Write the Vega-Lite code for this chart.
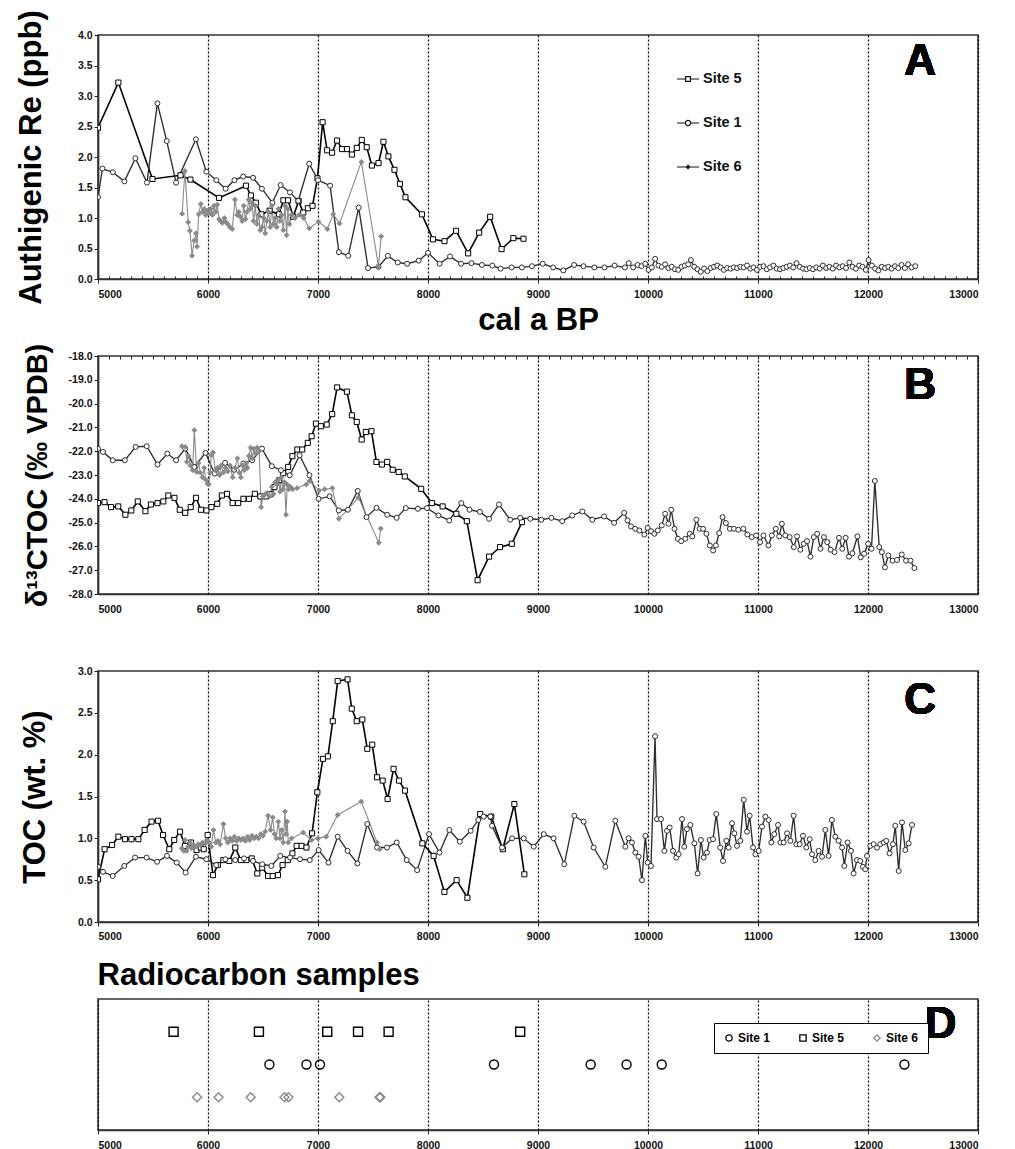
{
  "$schema": "https://vega.github.io/schema/vega-lite/v6.json",
  "background": "white",
  "padding": {"left": 14, "top": 8, "right": 5, "bottom": 0},
  "bounds": "flush",
  "spacing": 77,
  "resolve": {"scale": {"stroke": "independent", "shape": "independent", "fill": "independent", "size": "independent", "strokeWidth": "independent"}, "legend": {"stroke": "independent", "shape": "independent", "fill": "independent", "size": "independent", "strokeWidth": "independent"}},
  "datasets": {
    "re": [
      {"site":"Site 5","age":5000,"v":2.48},{"site":"Site 5","age":5185,"v":3.22},{"site":"Site 5","age":5495,"v":1.64},{"site":"Site 5","age":5750,"v":1.70},{"site":"Site 5","age":5840,"v":1.63},{"site":"Site 5","age":6100,"v":1.33},{"site":"Site 5","age":6345,"v":1.53},{"site":"Site 5","age":6390,"v":1.37},{"site":"Site 5","age":6435,"v":1.25},{"site":"Site 5","age":6485,"v":1.06},{"site":"Site 5","age":6560,"v":1.12},{"site":"Site 5","age":6645,"v":1.06},{"site":"Site 5","age":6685,"v":1.29},{"site":"Site 5","age":6728,"v":1.29},{"site":"Site 5","age":6775,"v":1.02},{"site":"Site 5","age":6824,"v":1.28},{"site":"Site 5","age":6866,"v":1.09},{"site":"Site 5","age":6908,"v":1.16},{"site":"Site 5","age":6950,"v":1.20},{"site":"Site 5","age":6995,"v":1.65},{"site":"Site 5","age":7042,"v":2.57},{"site":"Site 5","age":7083,"v":2.11},{"site":"Site 5","age":7128,"v":2.07},{"site":"Site 5","age":7173,"v":2.27},{"site":"Site 5","age":7218,"v":2.13},{"site":"Site 5","age":7263,"v":2.13},{"site":"Site 5","age":7308,"v":2.04},{"site":"Site 5","age":7353,"v":2.15},{"site":"Site 5","age":7398,"v":2.28},{"site":"Site 5","age":7443,"v":2.16},{"site":"Site 5","age":7490,"v":1.86},{"site":"Site 5","age":7550,"v":1.90},{"site":"Site 5","age":7595,"v":2.25},{"site":"Site 5","age":7640,"v":2.01},{"site":"Site 5","age":7695,"v":1.79},{"site":"Site 5","age":7745,"v":1.56},{"site":"Site 5","age":7795,"v":1.34},{"site":"Site 5","age":7945,"v":1.06},{"site":"Site 5","age":8045,"v":0.65},{"site":"Site 5","age":8150,"v":0.62},{"site":"Site 5","age":8255,"v":0.79},{"site":"Site 5","age":8365,"v":0.42},{"site":"Site 5","age":8465,"v":0.76},{"site":"Site 5","age":8565,"v":1.02},{"site":"Site 5","age":8669,"v":0.49},{"site":"Site 5","age":8776,"v":0.67},{"site":"Site 5","age":8868,"v":0.66},
      {"site":"Site 1","age":5000,"v":1.34},{"site":"Site 1","age":5040,"v":1.81},{"site":"Site 1","age":5135,"v":1.75},{"site":"Site 1","age":5240,"v":1.60},{"site":"Site 1","age":5340,"v":1.98},{"site":"Site 1","age":5445,"v":1.58},{"site":"Site 1","age":5540,"v":2.88},{"site":"Site 1","age":5625,"v":2.26},{"site":"Site 1","age":5710,"v":1.58},{"site":"Site 1","age":5890,"v":2.29},{"site":"Site 1","age":5985,"v":1.76},{"site":"Site 1","age":6075,"v":1.62},{"site":"Site 1","age":6160,"v":1.48},{"site":"Site 1","age":6240,"v":1.62},{"site":"Site 1","age":6320,"v":1.68},{"site":"Site 1","age":6410,"v":1.66},{"site":"Site 1","age":6490,"v":1.48},{"site":"Site 1","age":6585,"v":1.25},{"site":"Site 1","age":6660,"v":1.54},{"site":"Site 1","age":6745,"v":1.42},{"site":"Site 1","age":6820,"v":1.28},{"site":"Site 1","age":6920,"v":1.89},{"site":"Site 1","age":7000,"v":1.62},{"site":"Site 1","age":7110,"v":1.53},{"site":"Site 1","age":7190,"v":0.44},{"site":"Site 1","age":7275,"v":0.38},{"site":"Site 1","age":7370,"v":1.17},{"site":"Site 1","age":7455,"v":0.18},{"site":"Site 1","age":7550,"v":0.20},{"site":"Site 1","age":7635,"v":0.38},{"site":"Site 1","age":7725,"v":0.27},{"site":"Site 1","age":7810,"v":0.25},{"site":"Site 1","age":7915,"v":0.30},{"site":"Site 1","age":8000,"v":0.43},{"site":"Site 1","age":8105,"v":0.25},{"site":"Site 1","age":8200,"v":0.37},{"site":"Site 1","age":8300,"v":0.25},{"site":"Site 1","age":8395,"v":0.26},{"site":"Site 1","age":8490,"v":0.23},{"site":"Site 1","age":8585,"v":0.22},{"site":"Site 1","age":8660,"v":0.17},{"site":"Site 1","age":8760,"v":0.19},{"site":"Site 1","age":8853,"v":0.19},{"site":"Site 1","age":8945,"v":0.21},{"site":"Site 1","age":9043,"v":0.25},{"site":"Site 1","age":9138,"v":0.19},{"site":"Site 1","age":9230,"v":0.14},{"site":"Site 1","age":9328,"v":0.23},{"site":"Site 1","age":9414,"v":0.21},{"site":"Site 1","age":9512,"v":0.19},{"site":"Site 1","age":9604,"v":0.19},{"site":"Site 1","age":9696,"v":0.22},{"site":"Site 1","age":9790,"v":0.19},{"site":"Site 1","age":9825,"v":0.26},{"site":"Site 1","age":9865,"v":0.19},{"site":"Site 1","age":9905,"v":0.23},{"site":"Site 1","age":9940,"v":0.21},{"site":"Site 1","age":9975,"v":0.25},{"site":"Site 1","age":10005,"v":0.15},{"site":"Site 1","age":10035,"v":0.19},{"site":"Site 1","age":10065,"v":0.33},{"site":"Site 1","age":10095,"v":0.22},{"site":"Site 1","age":10125,"v":0.20},{"site":"Site 1","age":10155,"v":0.24},{"site":"Site 1","age":10185,"v":0.18},{"site":"Site 1","age":10215,"v":0.20},{"site":"Site 1","age":10245,"v":0.16},{"site":"Site 1","age":10275,"v":0.15},{"site":"Site 1","age":10305,"v":0.20},{"site":"Site 1","age":10335,"v":0.22},{"site":"Site 1","age":10365,"v":0.24},{"site":"Site 1","age":10390,"v":0.31},{"site":"Site 1","age":10420,"v":0.20},{"site":"Site 1","age":10450,"v":0.16},{"site":"Site 1","age":10480,"v":0.12},{"site":"Site 1","age":10510,"v":0.17},{"site":"Site 1","age":10540,"v":0.13},{"site":"Site 1","age":10570,"v":0.18},{"site":"Site 1","age":10600,"v":0.20},{"site":"Site 1","age":10630,"v":0.22},{"site":"Site 1","age":10660,"v":0.19},{"site":"Site 1","age":10690,"v":0.15},{"site":"Site 1","age":10720,"v":0.18},{"site":"Site 1","age":10750,"v":0.17},{"site":"Site 1","age":10780,"v":0.19},{"site":"Site 1","age":10810,"v":0.18},{"site":"Site 1","age":10840,"v":0.20},{"site":"Site 1","age":10870,"v":0.19},{"site":"Site 1","age":10900,"v":0.22},{"site":"Site 1","age":10930,"v":0.17},{"site":"Site 1","age":10960,"v":0.19},{"site":"Site 1","age":10990,"v":0.15},{"site":"Site 1","age":11020,"v":0.20},{"site":"Site 1","age":11050,"v":0.21},{"site":"Site 1","age":11080,"v":0.16},{"site":"Site 1","age":11110,"v":0.19},{"site":"Site 1","age":11140,"v":0.22},{"site":"Site 1","age":11170,"v":0.17},{"site":"Site 1","age":11200,"v":0.16},{"site":"Site 1","age":11230,"v":0.18},{"site":"Site 1","age":11260,"v":0.20},{"site":"Site 1","age":11290,"v":0.22},{"site":"Site 1","age":11320,"v":0.19},{"site":"Site 1","age":11350,"v":0.26},{"site":"Site 1","age":11380,"v":0.20},{"site":"Site 1","age":11410,"v":0.17},{"site":"Site 1","age":11440,"v":0.16},{"site":"Site 1","age":11470,"v":0.18},{"site":"Site 1","age":11500,"v":0.16},{"site":"Site 1","age":11530,"v":0.19},{"site":"Site 1","age":11560,"v":0.17},{"site":"Site 1","age":11590,"v":0.22},{"site":"Site 1","age":11620,"v":0.18},{"site":"Site 1","age":11650,"v":0.20},{"site":"Site 1","age":11680,"v":0.17},{"site":"Site 1","age":11710,"v":0.22},{"site":"Site 1","age":11740,"v":0.19},{"site":"Site 1","age":11770,"v":0.21},{"site":"Site 1","age":11800,"v":0.18},{"site":"Site 1","age":11830,"v":0.27},{"site":"Site 1","age":11860,"v":0.20},{"site":"Site 1","age":11890,"v":0.17},{"site":"Site 1","age":11920,"v":0.22},{"site":"Site 1","age":11950,"v":0.20},{"site":"Site 1","age":11980,"v":0.15},{"site":"Site 1","age":12005,"v":0.31},{"site":"Site 1","age":12035,"v":0.22},{"site":"Site 1","age":12065,"v":0.17},{"site":"Site 1","age":12095,"v":0.14},{"site":"Site 1","age":12125,"v":0.20},{"site":"Site 1","age":12155,"v":0.18},{"site":"Site 1","age":12185,"v":0.20},{"site":"Site 1","age":12215,"v":0.17},{"site":"Site 1","age":12245,"v":0.21},{"site":"Site 1","age":12275,"v":0.18},{"site":"Site 1","age":12305,"v":0.23},{"site":"Site 1","age":12335,"v":0.18},{"site":"Site 1","age":12365,"v":0.24},{"site":"Site 1","age":12395,"v":0.19},{"site":"Site 1","age":12430,"v":0.21},
      {"site":"Site 6","age":5765,"v":1.07},{"site":"Site 6","age":5790,"v":1.77},{"site":"Site 6","age":5820,"v":0.93},{"site":"Site 6","age":5835,"v":0.79},{"site":"Site 6","age":5855,"v":0.38},{"site":"Site 6","age":5875,"v":0.63},{"site":"Site 6","age":5890,"v":0.75},{"site":"Site 6","age":5900,"v":0.53},{"site":"Site 6","age":5915,"v":1.06},{"site":"Site 6","age":5935,"v":1.23},{"site":"Site 6","age":5950,"v":1.10},{"site":"Site 6","age":5965,"v":1.15},{"site":"Site 6","age":5980,"v":1.05},{"site":"Site 6","age":5995,"v":1.12},{"site":"Site 6","age":6010,"v":1.08},{"site":"Site 6","age":6025,"v":1.15},{"site":"Site 6","age":6040,"v":1.05},{"site":"Site 6","age":6055,"v":1.20},{"site":"Site 6","age":6070,"v":1.10},{"site":"Site 6","age":6085,"v":1.22},{"site":"Site 6","age":6100,"v":0.98},{"site":"Site 6","age":6115,"v":0.95},{"site":"Site 6","age":6130,"v":0.92},{"site":"Site 6","age":6150,"v":1.00},{"site":"Site 6","age":6165,"v":0.93},{"site":"Site 6","age":6180,"v":0.90},{"site":"Site 6","age":6200,"v":0.85},{"site":"Site 6","age":6220,"v":0.82},{"site":"Site 6","age":6245,"v":1.30},{"site":"Site 6","age":6265,"v":1.05},{"site":"Site 6","age":6280,"v":1.10},{"site":"Site 6","age":6295,"v":1.02},{"site":"Site 6","age":6310,"v":0.95},{"site":"Site 6","age":6325,"v":1.20},{"site":"Site 6","age":6340,"v":0.98},{"site":"Site 6","age":6355,"v":1.10},{"site":"Site 6","age":6370,"v":1.30},{"site":"Site 6","age":6385,"v":1.15},{"site":"Site 6","age":6400,"v":1.25},{"site":"Site 6","age":6415,"v":0.95},{"site":"Site 6","age":6430,"v":1.20},{"site":"Site 6","age":6445,"v":0.90},{"site":"Site 6","age":6460,"v":1.05},{"site":"Site 6","age":6475,"v":0.80},{"site":"Site 6","age":6490,"v":0.85},{"site":"Site 6","age":6505,"v":1.00},{"site":"Site 6","age":6520,"v":0.75},{"site":"Site 6","age":6535,"v":0.95},{"site":"Site 6","age":6550,"v":1.10},{"site":"Site 6","age":6565,"v":0.85},{"site":"Site 6","age":6580,"v":1.20},{"site":"Site 6","age":6595,"v":0.90},{"site":"Site 6","age":6610,"v":1.00},{"site":"Site 6","age":6625,"v":0.85},{"site":"Site 6","age":6640,"v":1.15},{"site":"Site 6","age":6655,"v":0.95},{"site":"Site 6","age":6670,"v":1.05},{"site":"Site 6","age":6685,"v":0.80},{"site":"Site 6","age":6700,"v":1.20},{"site":"Site 6","age":6715,"v":0.72},{"site":"Site 6","age":6725,"v":1.15},{"site":"Site 6","age":6740,"v":0.90},{"site":"Site 6","age":6760,"v":1.05},{"site":"Site 6","age":6790,"v":1.00},{"site":"Site 6","age":6830,"v":1.05},{"site":"Site 6","age":6870,"v":1.00},{"site":"Site 6","age":6920,"v":0.83},{"site":"Site 6","age":7004,"v":0.94},{"site":"Site 6","age":7085,"v":0.82},{"site":"Site 6","age":7139,"v":1.06},{"site":"Site 6","age":7196,"v":0.91},{"site":"Site 6","age":7394,"v":1.92},{"site":"Site 6","age":7550,"v":0.21},{"site":"Site 6","age":7574,"v":0.70}
    ],
    "d13c": [
      {"site":"Site 5","age":5000,"v":-24.18},{"site":"Site 5","age":5059,"v":-24.14},{"site":"Site 5","age":5119,"v":-24.35},{"site":"Site 5","age":5184,"v":-24.32},{"site":"Site 5","age":5249,"v":-24.67},{"site":"Site 5","age":5303,"v":-24.49},{"site":"Site 5","age":5362,"v":-24.11},{"site":"Site 5","age":5431,"v":-24.52},{"site":"Site 5","age":5481,"v":-24.24},{"site":"Site 5","age":5541,"v":-24.18},{"site":"Site 5","age":5594,"v":-24.11},{"site":"Site 5","age":5639,"v":-23.86},{"site":"Site 5","age":5695,"v":-23.96},{"site":"Site 5","age":5743,"v":-24.46},{"site":"Site 5","age":5793,"v":-24.59},{"site":"Site 5","age":5843,"v":-24.35},{"site":"Site 5","age":5891,"v":-23.96},{"site":"Site 5","age":5936,"v":-24.46},{"site":"Site 5","age":5986,"v":-24.49},{"site":"Site 5","age":6031,"v":-24.35},{"site":"Site 5","age":6084,"v":-24.21},{"site":"Site 5","age":6126,"v":-23.86},{"site":"Site 5","age":6173,"v":-23.79},{"site":"Site 5","age":6224,"v":-24.18},{"site":"Site 5","age":6274,"v":-24.18},{"site":"Site 5","age":6322,"v":-24.0},{"site":"Site 5","age":6372,"v":-24.0},{"site":"Site 5","age":6426,"v":-23.79},{"site":"Site 5","age":6476,"v":-23.9},{"site":"Site 5","age":6527,"v":-23.9},{"site":"Site 5","age":6565,"v":-23.81},{"site":"Site 5","age":6604,"v":-23.51},{"site":"Site 5","age":6648,"v":-23.22},{"site":"Site 5","age":6684,"v":-22.92},{"site":"Site 5","age":6729,"v":-22.66},{"site":"Site 5","age":6767,"v":-22.21},{"site":"Site 5","age":6812,"v":-21.93},{"site":"Site 5","age":6856,"v":-21.93},{"site":"Site 5","age":6907,"v":-21.65},{"site":"Site 5","age":6942,"v":-21.37},{"site":"Site 5","age":6981,"v":-20.84},{"site":"Site 5","age":7026,"v":-20.95},{"site":"Site 5","age":7079,"v":-20.88},{"site":"Site 5","age":7129,"v":-20.44},{"site":"Site 5","age":7174,"v":-19.32},{"site":"Site 5","age":7263,"v":-19.5},{"site":"Site 5","age":7308,"v":-20.49},{"site":"Site 5","age":7352,"v":-20.77},{"site":"Site 5","age":7397,"v":-21.51},{"site":"Site 5","age":7435,"v":-21.19},{"site":"Site 5","age":7486,"v":-21.16},{"site":"Site 5","age":7531,"v":-22.45},{"site":"Site 5","age":7581,"v":-22.56},{"site":"Site 5","age":7629,"v":-22.45},{"site":"Site 5","age":7679,"v":-22.78},{"site":"Site 5","age":7733,"v":-22.87},{"site":"Site 5","age":7789,"v":-23.06},{"site":"Site 5","age":7938,"v":-23.58},{"site":"Site 5","age":8035,"v":-24.18},{"site":"Site 5","age":8133,"v":-24.32},{"site":"Site 5","age":8258,"v":-24.63},{"site":"Site 5","age":8353,"v":-24.94},{"site":"Site 5","age":8451,"v":-27.42},{"site":"Site 5","age":8555,"v":-26.43},{"site":"Site 5","age":8655,"v":-26.03},{"site":"Site 5","age":8762,"v":-25.89},{"site":"Site 5","age":8854,"v":-24.98},
      {"site":"Site 1","age":5000,"v":-21.9},{"site":"Site 1","age":5045,"v":-22.03},{"site":"Site 1","age":5134,"v":-22.38},{"site":"Site 1","age":5244,"v":-22.38},{"site":"Site 1","age":5342,"v":-21.82},{"site":"Site 1","age":5443,"v":-21.79},{"site":"Site 1","age":5541,"v":-22.56},{"site":"Site 1","age":5630,"v":-22.1},{"site":"Site 1","age":5710,"v":-22.38},{"site":"Site 1","age":5793,"v":-21.89},{"site":"Site 1","age":5876,"v":-22.66},{"site":"Site 1","age":5977,"v":-22.07},{"site":"Site 1","age":6060,"v":-22.94},{"site":"Site 1","age":6155,"v":-22.49},{"site":"Site 1","age":6238,"v":-22.78},{"site":"Site 1","age":6322,"v":-22.52},{"site":"Site 1","age":6402,"v":-22.38},{"site":"Site 1","age":6491,"v":-21.89},{"site":"Site 1","age":6580,"v":-22.63},{"site":"Site 1","age":6663,"v":-22.8},{"site":"Site 1","age":6743,"v":-23.01},{"site":"Site 1","age":6833,"v":-22.17},{"site":"Site 1","age":6922,"v":-23.01},{"site":"Site 1","age":7005,"v":-24.0},{"site":"Site 1","age":7106,"v":-23.9},{"site":"Site 1","age":7189,"v":-24.49},{"site":"Site 1","age":7272,"v":-24.46},{"site":"Site 1","age":7361,"v":-23.67},{"site":"Site 1","age":7441,"v":-24.77},{"site":"Site 1","age":7531,"v":-24.38},{"site":"Site 1","age":7629,"v":-24.67},{"site":"Site 1","age":7715,"v":-24.8},{"site":"Site 1","age":7798,"v":-24.39},{"site":"Site 1","age":7908,"v":-24.42},{"site":"Site 1","age":7991,"v":-24.39},{"site":"Site 1","age":8095,"v":-24.7},{"site":"Site 1","age":8193,"v":-24.91},{"site":"Site 1","age":8303,"v":-24.18},{"site":"Site 1","age":8377,"v":-24.46},{"site":"Site 1","age":8472,"v":-24.55},{"site":"Site 1","age":8555,"v":-24.84},{"site":"Site 1","age":8646,"v":-24.24},{"site":"Site 1","age":8747,"v":-24.88},{"site":"Site 1","age":8838,"v":-24.8},{"site":"Site 1","age":8930,"v":-24.84},{"site":"Site 1","age":9030,"v":-24.88},{"site":"Site 1","age":9122,"v":-24.8},{"site":"Site 1","age":9220,"v":-24.94},{"site":"Site 1","age":9311,"v":-24.7},{"site":"Site 1","age":9403,"v":-24.53},{"site":"Site 1","age":9494,"v":-24.88},{"site":"Site 1","age":9601,"v":-24.74},{"site":"Site 1","age":9692,"v":-25.01},{"site":"Site 1","age":9784,"v":-24.59},{"site":"Site 1","age":9814,"v":-24.91},{"site":"Site 1","age":9845,"v":-25.16},{"site":"Site 1","age":9884,"v":-25.26},{"site":"Site 1","age":9921,"v":-25.33},{"site":"Site 1","age":9967,"v":-25.5},{"site":"Site 1","age":9997,"v":-25.22},{"site":"Site 1","age":10028,"v":-25.36},{"site":"Site 1","age":10058,"v":-25.47},{"site":"Site 1","age":10089,"v":-25.33},{"site":"Site 1","age":10125,"v":-25.12},{"site":"Site 1","age":10156,"v":-24.63},{"site":"Site 1","age":10186,"v":-25.05},{"site":"Site 1","age":10211,"v":-24.46},{"site":"Site 1","age":10241,"v":-25.26},{"site":"Site 1","age":10272,"v":-25.68},{"site":"Site 1","age":10302,"v":-25.78},{"site":"Site 1","age":10339,"v":-25.68},{"site":"Site 1","age":10379,"v":-25.47},{"site":"Site 1","age":10403,"v":-25.58},{"site":"Site 1","age":10440,"v":-24.88},{"site":"Site 1","age":10470,"v":-25.26},{"site":"Site 1","age":10501,"v":-25.26},{"site":"Site 1","age":10531,"v":-25.47},{"site":"Site 1","age":10562,"v":-25.96},{"site":"Site 1","age":10592,"v":-26.17},{"site":"Site 1","age":10617,"v":-25.96},{"site":"Site 1","age":10647,"v":-25.44},{"site":"Site 1","age":10678,"v":-24.77},{"site":"Site 1","age":10708,"v":-25.02},{"site":"Site 1","age":10745,"v":-25.26},{"site":"Site 1","age":10781,"v":-25.26},{"site":"Site 1","age":10821,"v":-25.3},{"site":"Site 1","age":10867,"v":-25.26},{"site":"Site 1","age":10903,"v":-25.5},{"site":"Site 1","age":10943,"v":-25.61},{"site":"Site 1","age":10983,"v":-25.54},{"site":"Site 1","age":11019,"v":-25.82},{"site":"Site 1","age":11050,"v":-25.54},{"site":"Site 1","age":11095,"v":-25.96},{"site":"Site 1","age":11126,"v":-25.54},{"site":"Site 1","age":11162,"v":-25.26},{"site":"Site 1","age":11193,"v":-25.58},{"site":"Site 1","age":11217,"v":-25.05},{"site":"Site 1","age":11248,"v":-25.54},{"site":"Site 1","age":11288,"v":-25.61},{"site":"Site 1","age":11325,"v":-26.03},{"site":"Site 1","age":11355,"v":-25.58},{"site":"Site 1","age":11385,"v":-26.14},{"site":"Site 1","age":11416,"v":-25.89},{"site":"Site 1","age":11446,"v":-25.78},{"site":"Site 1","age":11477,"v":-26.43},{"site":"Site 1","age":11507,"v":-25.61},{"site":"Site 1","age":11538,"v":-25.47},{"site":"Site 1","age":11568,"v":-26.1},{"site":"Site 1","age":11599,"v":-25.61},{"site":"Site 1","age":11629,"v":-25.82},{"site":"Site 1","age":11660,"v":-26.14},{"site":"Site 1","age":11696,"v":-26.24},{"site":"Site 1","age":11736,"v":-25.64},{"site":"Site 1","age":11766,"v":-26.1},{"site":"Site 1","age":11797,"v":-25.64},{"site":"Site 1","age":11827,"v":-26.43},{"site":"Site 1","age":11858,"v":-26.29},{"site":"Site 1","age":11904,"v":-25.58},{"site":"Site 1","age":11934,"v":-26.46},{"site":"Site 1","age":11965,"v":-26.31},{"site":"Site 1","age":12001,"v":-25.89},{"site":"Site 1","age":12032,"v":-26.1},{"site":"Site 1","age":12062,"v":-23.25},{"site":"Site 1","age":12102,"v":-26.03},{"site":"Site 1","age":12126,"v":-26.24},{"site":"Site 1","age":12154,"v":-26.88},{"site":"Site 1","age":12185,"v":-26.38},{"site":"Site 1","age":12224,"v":-26.6},{"site":"Site 1","age":12264,"v":-26.57},{"site":"Site 1","age":12307,"v":-26.34},{"site":"Site 1","age":12346,"v":-26.6},{"site":"Site 1","age":12386,"v":-26.6},{"site":"Site 1","age":12422,"v":-26.91},
      {"site":"Site 6","age":5763,"v":-21.79},{"site":"Site 6","age":5793,"v":-21.82},{"site":"Site 6","age":5808,"v":-22.45},{"site":"Site 6","age":5822,"v":-22.2},{"site":"Site 6","age":5840,"v":-22.6},{"site":"Site 6","age":5860,"v":-22.8},{"site":"Site 6","age":5876,"v":-21.12},{"site":"Site 6","age":5897,"v":-22.87},{"site":"Site 6","age":5915,"v":-22.5},{"site":"Site 6","age":5930,"v":-22.9},{"site":"Site 6","age":5950,"v":-23.1},{"site":"Site 6","age":5965,"v":-22.7},{"site":"Site 6","age":5980,"v":-23.2},{"site":"Site 6","age":5995,"v":-23.37},{"site":"Site 6","age":6007,"v":-23.39},{"site":"Site 6","age":6020,"v":-22.9},{"site":"Site 6","age":6030,"v":-22.17},{"site":"Site 6","age":6046,"v":-22.05},{"site":"Site 6","age":6065,"v":-22.8},{"site":"Site 6","age":6085,"v":-22.7},{"site":"Site 6","age":6105,"v":-23.0},{"site":"Site 6","age":6120,"v":-22.6},{"site":"Site 6","age":6140,"v":-22.9},{"site":"Site 6","age":6160,"v":-22.7},{"site":"Site 6","age":6180,"v":-22.85},{"site":"Site 6","age":6200,"v":-22.6},{"site":"Site 6","age":6224,"v":-23.1},{"site":"Site 6","age":6245,"v":-22.7},{"site":"Site 6","age":6268,"v":-22.3},{"site":"Site 6","age":6285,"v":-22.9},{"site":"Site 6","age":6298,"v":-23.1},{"site":"Site 6","age":6315,"v":-22.6},{"site":"Site 6","age":6330,"v":-22.8},{"site":"Site 6","age":6345,"v":-22.5},{"site":"Site 6","age":6358,"v":-22.7},{"site":"Site 6","age":6372,"v":-22.2},{"site":"Site 6","age":6388,"v":-21.85},{"site":"Site 6","age":6402,"v":-22.3},{"site":"Site 6","age":6417,"v":-21.9},{"site":"Site 6","age":6432,"v":-22.1},{"site":"Site 6","age":6447,"v":-21.85},{"site":"Site 6","age":6465,"v":-22.0},{"site":"Site 6","age":6483,"v":-24.35},{"site":"Site 6","age":6500,"v":-23.9},{"site":"Site 6","age":6520,"v":-23.8},{"site":"Site 6","age":6540,"v":-23.75},{"site":"Site 6","age":6560,"v":-23.9},{"site":"Site 6","age":6580,"v":-23.5},{"site":"Site 6","age":6595,"v":-23.8},{"site":"Site 6","age":6610,"v":-23.3},{"site":"Site 6","age":6626,"v":-23.4},{"site":"Site 6","age":6640,"v":-23.2},{"site":"Site 6","age":6655,"v":-23.7},{"site":"Site 6","age":6668,"v":-23.1},{"site":"Site 6","age":6680,"v":-23.6},{"site":"Site 6","age":6695,"v":-23.3},{"site":"Site 6","age":6709,"v":-24.67},{"site":"Site 6","age":6720,"v":-23.4},{"site":"Site 6","age":6735,"v":-23.6},{"site":"Site 6","age":6750,"v":-23.5},{"site":"Site 6","age":6770,"v":-23.6},{"site":"Site 6","age":6810,"v":-23.55},{"site":"Site 6","age":6893,"v":-23.4},{"site":"Site 6","age":6922,"v":-23.25},{"site":"Site 6","age":7011,"v":-23.65},{"site":"Site 6","age":7060,"v":-23.6},{"site":"Site 6","age":7130,"v":-23.55},{"site":"Site 6","age":7190,"v":-24.84},{"site":"Site 6","age":7368,"v":-23.95},{"site":"Site 6","age":7553,"v":-25.85},{"site":"Site 6","age":7570,"v":-25.25}
    ],
    "toc": [
      {"site":"Site 5","age":5000,"v":0.51},{"site":"Site 5","age":5060,"v":0.87},{"site":"Site 5","age":5128,"v":0.92},{"site":"Site 5","age":5185,"v":1.02},{"site":"Site 5","age":5245,"v":0.99},{"site":"Site 5","age":5304,"v":0.99},{"site":"Site 5","age":5367,"v":0.99},{"site":"Site 5","age":5424,"v":1.1},{"site":"Site 5","age":5487,"v":1.2},{"site":"Site 5","age":5546,"v":1.21},{"site":"Site 5","age":5591,"v":1.04},{"site":"Site 5","age":5648,"v":0.87},{"site":"Site 5","age":5693,"v":0.98},{"site":"Site 5","age":5746,"v":1.08},{"site":"Site 5","age":5791,"v":0.91},{"site":"Site 5","age":5845,"v":0.95},{"site":"Site 5","age":5896,"v":0.86},{"site":"Site 5","age":5934,"v":0.89},{"site":"Site 5","age":5961,"v":0.87},{"site":"Site 5","age":5997,"v":1.04},{"site":"Site 5","age":6045,"v":0.56},{"site":"Site 5","age":6090,"v":0.68},{"site":"Site 5","age":6140,"v":0.74},{"site":"Site 5","age":6194,"v":0.73},{"site":"Site 5","age":6248,"v":0.89},{"site":"Site 5","age":6298,"v":0.74},{"site":"Site 5","age":6349,"v":0.74},{"site":"Site 5","age":6397,"v":0.76},{"site":"Site 5","age":6448,"v":0.58},{"site":"Site 5","age":6493,"v":0.65},{"site":"Site 5","age":6546,"v":0.55},{"site":"Site 5","age":6588,"v":0.55},{"site":"Site 5","age":6636,"v":0.56},{"site":"Site 5","age":6678,"v":0.68},{"site":"Site 5","age":6725,"v":0.74},{"site":"Site 5","age":6767,"v":0.82},{"site":"Site 5","age":6806,"v":0.91},{"site":"Site 5","age":6851,"v":0.91},{"site":"Site 5","age":6895,"v":0.89},{"site":"Site 5","age":6946,"v":1.06},{"site":"Site 5","age":6994,"v":1.55},{"site":"Site 5","age":7045,"v":1.95},{"site":"Site 5","age":7090,"v":1.98},{"site":"Site 5","age":7134,"v":2.4},{"site":"Site 5","age":7179,"v":2.88},{"site":"Site 5","age":7269,"v":2.9},{"site":"Site 5","age":7307,"v":2.55},{"site":"Site 5","age":7352,"v":2.4},{"site":"Site 5","age":7403,"v":2.42},{"site":"Site 5","age":7448,"v":2.07},{"site":"Site 5","age":7493,"v":2.12},{"site":"Site 5","age":7537,"v":1.73},{"site":"Site 5","age":7588,"v":1.69},{"site":"Site 5","age":7633,"v":1.47},{"site":"Site 5","age":7687,"v":1.83},{"site":"Site 5","age":7737,"v":1.69},{"site":"Site 5","age":7791,"v":1.57},{"site":"Site 5","age":7949,"v":0.94},{"site":"Site 5","age":8051,"v":0.79},{"site":"Site 5","age":8149,"v":0.36},{"site":"Site 5","age":8260,"v":0.5},{"site":"Site 5","age":8358,"v":0.29},{"site":"Site 5","age":8475,"v":1.29},{"site":"Site 5","age":8575,"v":1.26},{"site":"Site 5","age":8680,"v":0.87},{"site":"Site 5","age":8785,"v":1.41},{"site":"Site 5","age":8876,"v":0.57},
      {"site":"Site 1","age":5000,"v":0.66},{"site":"Site 1","age":5045,"v":0.6},{"site":"Site 1","age":5134,"v":0.55},{"site":"Site 1","age":5239,"v":0.67},{"site":"Site 1","age":5337,"v":0.77},{"site":"Site 1","age":5442,"v":0.77},{"site":"Site 1","age":5537,"v":0.72},{"site":"Site 1","age":5627,"v":0.79},{"site":"Site 1","age":5716,"v":0.71},{"site":"Site 1","age":5797,"v":0.59},{"site":"Site 1","age":5890,"v":0.78},{"site":"Site 1","age":5985,"v":0.75},{"site":"Site 1","age":6075,"v":0.68},{"site":"Site 1","age":6158,"v":0.75},{"site":"Site 1","age":6248,"v":0.74},{"site":"Site 1","age":6328,"v":0.76},{"site":"Site 1","age":6409,"v":0.73},{"site":"Site 1","age":6493,"v":0.69},{"site":"Site 1","age":6576,"v":0.67},{"site":"Site 1","age":6657,"v":0.79},{"site":"Site 1","age":6746,"v":0.77},{"site":"Site 1","age":6836,"v":0.75},{"site":"Site 1","age":6925,"v":0.74},{"site":"Site 1","age":7006,"v":0.86},{"site":"Site 1","age":7095,"v":0.71},{"site":"Site 1","age":7179,"v":1.02},{"site":"Site 1","age":7269,"v":0.85},{"site":"Site 1","age":7358,"v":0.7},{"site":"Site 1","age":7448,"v":1.17},{"site":"Site 1","age":7537,"v":0.89},{"site":"Site 1","age":7627,"v":0.89},{"site":"Site 1","age":7716,"v":0.95},{"site":"Site 1","age":7806,"v":0.74},{"site":"Site 1","age":7901,"v":0.62},{"site":"Site 1","age":8009,"v":1.05},{"site":"Site 1","age":8104,"v":0.83},{"site":"Site 1","age":8194,"v":1.1},{"site":"Site 1","age":8289,"v":0.96},{"site":"Site 1","age":8388,"v":1.09},{"site":"Site 1","age":8457,"v":1.22},{"site":"Site 1","age":8506,"v":1.26},{"site":"Site 1","age":8567,"v":1.26},{"site":"Site 1","age":8582,"v":1.15},{"site":"Site 1","age":8673,"v":0.89},{"site":"Site 1","age":8764,"v":1.0},{"site":"Site 1","age":8870,"v":1.0},{"site":"Site 1","age":8961,"v":0.9},{"site":"Site 1","age":9052,"v":1.05},{"site":"Site 1","age":9142,"v":1.0},{"site":"Site 1","age":9239,"v":0.69},{"site":"Site 1","age":9330,"v":1.27},{"site":"Site 1","age":9415,"v":1.2},{"site":"Site 1","age":9506,"v":0.89},{"site":"Site 1","age":9612,"v":0.66},{"site":"Site 1","age":9703,"v":1.21},{"site":"Site 1","age":9794,"v":0.9},{"site":"Site 1","age":9824,"v":1.0},{"site":"Site 1","age":9854,"v":0.95},{"site":"Site 1","age":9885,"v":0.83},{"site":"Site 1","age":9915,"v":0.78},{"site":"Site 1","age":9945,"v":0.5},{"site":"Site 1","age":9976,"v":1.03},{"site":"Site 1","age":9997,"v":0.71},{"site":"Site 1","age":10027,"v":0.67},{"site":"Site 1","age":10064,"v":2.22},{"site":"Site 1","age":10082,"v":1.23},{"site":"Site 1","age":10118,"v":1.23},{"site":"Site 1","age":10149,"v":0.85},{"site":"Site 1","age":10173,"v":1.09},{"site":"Site 1","age":10197,"v":1.13},{"site":"Site 1","age":10227,"v":0.85},{"site":"Site 1","age":10257,"v":0.77},{"site":"Site 1","age":10279,"v":0.81},{"site":"Site 1","age":10309,"v":1.23},{"site":"Site 1","age":10330,"v":0.9},{"site":"Site 1","age":10354,"v":1.11},{"site":"Site 1","age":10385,"v":1.16},{"site":"Site 1","age":10421,"v":0.94},{"site":"Site 1","age":10451,"v":0.58},{"site":"Site 1","age":10481,"v":0.98},{"site":"Site 1","age":10506,"v":0.77},{"site":"Site 1","age":10536,"v":0.83},{"site":"Site 1","age":10560,"v":0.98},{"site":"Site 1","age":10591,"v":0.99},{"site":"Site 1","age":10621,"v":1.29},{"site":"Site 1","age":10657,"v":0.89},{"site":"Site 1","age":10682,"v":0.73},{"site":"Site 1","age":10712,"v":0.97},{"site":"Site 1","age":10733,"v":0.89},{"site":"Site 1","age":10764,"v":1.18},{"site":"Site 1","age":10785,"v":1.06},{"site":"Site 1","age":10809,"v":0.91},{"site":"Site 1","age":10839,"v":0.97},{"site":"Site 1","age":10870,"v":1.46},{"site":"Site 1","age":10900,"v":1.08},{"site":"Site 1","age":10924,"v":1.27},{"site":"Site 1","age":10955,"v":0.89},{"site":"Site 1","age":10976,"v":0.81},{"site":"Site 1","age":11006,"v":0.85},{"site":"Site 1","age":11036,"v":1.14},{"site":"Site 1","age":11067,"v":1.26},{"site":"Site 1","age":11097,"v":1.22},{"site":"Site 1","age":11121,"v":0.95},{"site":"Site 1","age":11148,"v":1.05},{"site":"Site 1","age":11182,"v":1.16},{"site":"Site 1","age":11203,"v":0.95},{"site":"Site 1","age":11233,"v":0.95},{"site":"Site 1","age":11264,"v":1.06},{"site":"Site 1","age":11294,"v":0.97},{"site":"Site 1","age":11324,"v":1.27},{"site":"Site 1","age":11348,"v":0.93},{"site":"Site 1","age":11379,"v":0.93},{"site":"Site 1","age":11409,"v":1.03},{"site":"Site 1","age":11439,"v":0.89},{"site":"Site 1","age":11470,"v":0.99},{"site":"Site 1","age":11491,"v":0.81},{"site":"Site 1","age":11521,"v":0.74},{"site":"Site 1","age":11551,"v":0.85},{"site":"Site 1","age":11582,"v":0.78},{"site":"Site 1","age":11612,"v":1.1},{"site":"Site 1","age":11642,"v":0.79},{"site":"Site 1","age":11672,"v":1.22},{"site":"Site 1","age":11703,"v":1.02},{"site":"Site 1","age":11733,"v":0.97},{"site":"Site 1","age":11764,"v":0.89},{"site":"Site 1","age":11785,"v":0.67},{"site":"Site 1","age":11815,"v":0.95},{"site":"Site 1","age":11845,"v":0.85},{"site":"Site 1","age":11869,"v":0.58},{"site":"Site 1","age":11900,"v":0.74},{"site":"Site 1","age":11930,"v":0.73},{"site":"Site 1","age":11954,"v":0.66},{"site":"Site 1","age":11975,"v":0.63},{"site":"Site 1","age":11991,"v":0.79},{"site":"Site 1","age":12021,"v":0.91},{"site":"Site 1","age":12051,"v":0.93},{"site":"Site 1","age":12082,"v":0.89},{"site":"Site 1","age":12112,"v":0.93},{"site":"Site 1","age":12142,"v":0.95},{"site":"Site 1","age":12166,"v":0.97},{"site":"Site 1","age":12196,"v":0.82},{"site":"Site 1","age":12227,"v":0.93},{"site":"Site 1","age":12248,"v":1.15},{"site":"Site 1","age":12279,"v":0.61},{"site":"Site 1","age":12309,"v":1.19},{"site":"Site 1","age":12339,"v":0.86},{"site":"Site 1","age":12370,"v":0.94},{"site":"Site 1","age":12400,"v":1.16},
      {"site":"Site 6","age":5761,"v":0.88},{"site":"Site 6","age":5780,"v":0.85},{"site":"Site 6","age":5791,"v":0.98},{"site":"Site 6","age":5805,"v":0.85},{"site":"Site 6","age":5820,"v":0.9},{"site":"Site 6","age":5835,"v":0.95},{"site":"Site 6","age":5850,"v":0.88},{"site":"Site 6","age":5870,"v":0.92},{"site":"Site 6","age":5890,"v":0.9},{"site":"Site 6","age":5910,"v":0.93},{"site":"Site 6","age":5930,"v":0.92},{"site":"Site 6","age":5950,"v":0.95},{"site":"Site 6","age":5970,"v":0.93},{"site":"Site 6","age":5990,"v":0.98},{"site":"Site 6","age":6010,"v":0.95},{"site":"Site 6","age":6030,"v":0.9},{"site":"Site 6","age":6050,"v":1.1},{"site":"Site 6","age":6070,"v":0.95},{"site":"Site 6","age":6090,"v":0.97},{"site":"Site 6","age":6110,"v":0.93},{"site":"Site 6","age":6140,"v":1.17},{"site":"Site 6","age":6160,"v":1.0},{"site":"Site 6","age":6180,"v":0.95},{"site":"Site 6","age":6200,"v":1.0},{"site":"Site 6","age":6220,"v":0.97},{"site":"Site 6","age":6240,"v":1.02},{"site":"Site 6","age":6260,"v":0.97},{"site":"Site 6","age":6280,"v":1.0},{"site":"Site 6","age":6300,"v":0.98},{"site":"Site 6","age":6320,"v":1.0},{"site":"Site 6","age":6340,"v":0.97},{"site":"Site 6","age":6360,"v":1.02},{"site":"Site 6","age":6380,"v":0.98},{"site":"Site 6","age":6400,"v":1.03},{"site":"Site 6","age":6420,"v":1.0},{"site":"Site 6","age":6440,"v":1.02},{"site":"Site 6","age":6460,"v":1.0},{"site":"Site 6","age":6480,"v":1.05},{"site":"Site 6","age":6500,"v":1.03},{"site":"Site 6","age":6520,"v":1.08},{"site":"Site 6","age":6546,"v":1.27},{"site":"Site 6","age":6570,"v":1.1},{"site":"Site 6","age":6588,"v":1.25},{"site":"Site 6","age":6605,"v":1.05},{"site":"Site 6","age":6620,"v":1.0},{"site":"Site 6","age":6640,"v":1.2},{"site":"Site 6","age":6655,"v":1.0},{"site":"Site 6","age":6670,"v":1.1},{"site":"Site 6","age":6685,"v":0.95},{"site":"Site 6","age":6700,"v":1.32},{"site":"Site 6","age":6710,"v":1.05},{"site":"Site 6","age":6720,"v":1.2},{"site":"Site 6","age":6730,"v":0.95},{"site":"Site 6","age":6760,"v":1.0},{"site":"Site 6","age":6866,"v":1.07},{"site":"Site 6","age":6940,"v":0.98},{"site":"Site 6","age":7000,"v":1.0},{"site":"Site 6","age":7075,"v":1.02},{"site":"Site 6","age":7179,"v":1.28},{"site":"Site 6","age":7394,"v":1.44},{"site":"Site 6","age":7537,"v":0.95},{"site":"Site 6","age":7561,"v":0.87}
    ],
    "c14": [
      {"site":"Site 5","age":5687},{"site":"Site 5","age":6463},{"site":"Site 5","age":7084},{"site":"Site 5","age":7364},{"site":"Site 5","age":7642},{"site":"Site 5","age":8838},
      {"site":"Site 1","age":6558},{"site":"Site 1","age":6895},{"site":"Site 1","age":7018},{"site":"Site 1","age":8600},{"site":"Site 1","age":9479},{"site":"Site 1","age":9805},{"site":"Site 1","age":10125},{"site":"Site 1","age":12331},
      {"site":"Site 6","age":5901},{"site":"Site 6","age":6096},{"site":"Site 6","age":6388},{"site":"Site 6","age":6695},{"site":"Site 6","age":6731},{"site":"Site 6","age":7194},{"site":"Site 6","age":7558},{"site":"Site 6","age":7567}
    ]
  },
  "vconcat": [
    {
      "width": 880, "height": 244,
      "data": {"name": "re"},
      "resolve": {"axis": {"x": "independent"}, "scale": {"shape": "independent"}, "legend": {"shape": "independent"}},
      "layer": [
        {
          "mark": {"type": "line", "clip": true},
          "encoding": {
            "x": {"field": "age", "type": "quantitative", "scale": {"domain": [5000, 13000], "nice": false, "zero": false},
                  "axis": {"orient": "bottom", "values": [5000,6000,7000,8000,9000,10000,11000,12000,13000], "format": "d", "grid": true, "tickSize": 4, "labelPadding": 6, "title": "cal a BP", "titleFontSize": 31, "titlePadding": 6}},
            "y": {"field": "v", "type": "quantitative", "scale": {"domain": [0, 4], "nice": false},
                  "axis": {"values": [0,0.5,1,1.5,2,2.5,3,3.5,4], "tickCount": 9, "format": ".1f", "labelOverlap": false, "title": "Authigenic Re (ppb)", "titleFontSize": 31, "titleX": -51, "grid": false}},
            "stroke": {"field": "site", "type": "nominal", "scale": {"domain": ["Site 5", "Site 1", "Site 6"], "range": ["#000000", "#2e2e2e", "#8a8a8a"]}, "legend": null},
            "strokeWidth": {"field": "site", "type": "ordinal", "scale": {"domain": ["Site 5", "Site 1", "Site 6"], "range": [1.6, 1.1, 1.1]}, "legend": null}
          }
        },
        {
          "mark": {"type": "point", "strokeWidth": 1, "opacity": 1, "clip": true},
          "encoding": {
            "x": {"field": "age", "type": "quantitative",
                  "axis": {"orient": "bottom", "values": [5000,5100,5200,5300,5400,5500,5600,5700,5800,5900,6000,6100,6200,6300,6400,6500,6600,6700,6800,6900,7000,7100,7200,7300,7400,7500,7600,7700,7800,7900,8000,8100,8200,8300,8400,8500,8600,8700,8800,8900,9000,9100,9200,9300,9400,9500,9600,9700,9800,9900,10000,10100,10200,10300,10400,10500,10600,10700,10800,10900,11000,11100,11200,11300,11400,11500,11600,11700,11800,11900,12000,12100,12200,12300,12400,12500,12600,12700,12800,12900,13000], "labels": false, "domain": false, "grid": false, "tickSize": 3, "offset": -3, "title": null}},
            "y": {"field": "v", "type": "quantitative",
                  "axis": {"values": [0,0.5,1,1.5,2,2.5,3,3.5,4], "tickCount": 9, "format": ".1f", "labelOverlap": false, "title": "Authigenic Re (ppb)", "titleFontSize": 31, "titleX": -51, "grid": false}},
            "stroke": {"field": "site", "type": "nominal", "legend": null},
            "shape": {"field": "site", "type": "nominal", "scale": {"domain": ["Site 5", "Site 1", "Site 6"], "range": ["square", "circle", "diamond"]}, "legend": null},
            "fill": {"field": "site", "type": "nominal", "scale": {"domain": ["Site 5", "Site 1", "Site 6"], "range": ["#ffffff", "#ffffff", "#8a8a8a"]}, "legend": null},
            "size": {"field": "site", "type": "ordinal", "scale": {"domain": ["Site 5", "Site 1", "Site 6"], "range": [26, 24, 12]}, "legend": null}
          }
        },
        {
          "mark": {"type": "point", "opacity": 0, "filled": false},
          "encoding": {
            "x": {"field": "age", "type": "quantitative", "axis": null},
            "y": {"field": "v", "type": "quantitative",
                  "axis": {"values": [0,0.5,1,1.5,2,2.5,3,3.5,4], "tickCount": 9, "format": ".1f", "labelOverlap": false, "title": "Authigenic Re (ppb)", "titleFontSize": 31, "titleX": -51, "grid": false}},
            "shape": {"field": "site", "type": "nominal",
                      "scale": {"domain": ["Site 5", "Site 1", "Site 6"], "range": ["M-1,0L-0.22,0M0.22,0L1,0M-0.22,-0.22L0.22,-0.22L0.22,0.22L-0.22,0.22Z", "M-1,0L-0.24,0M0.24,0L1,0M0.24,0A0.24,0.24,0,1,1,-0.24,0A0.24,0.24,0,1,1,0.24,0Z", "M-1,0L1,0M0,-0.16L0.16,0L0,0.16L-0.16,0Z"]},
                      "legend": {"title": null, "orient": "none", "legendX": 578, "legendY": 32, "direction": "vertical", "padding": 0,
                                 "labelFontSize": 14.5, "labelFontWeight": "bold", "labelColor": "#111", "rowPadding": 25, "symbolSize": 484, "labelOffset": 3,
                                 "symbolOpacity": 1, "symbolStrokeWidth": 1.2, "symbolStrokeColor": "#111"}}
          }
        },
        {
          "mark": {"type": "text", "text": "A", "fontSize": 44, "fontWeight": "bold", "font": "Liberation Sans", "align": "center", "baseline": "alphabetic", "color": "#000"},
          "encoding": {"x": {"datum": 12475, "type": "quantitative", "axis": null},
                       "y": {"datum": 3.34, "type": "quantitative",
                             "axis": {"values": [0,0.5,1,1.5,2,2.5,3,3.5,4], "tickCount": 9, "format": ".1f", "labelOverlap": false, "title": "Authigenic Re (ppb)", "titleFontSize": 31, "titleX": -51, "grid": false}}}
        }
      ]
    },
    {
      "width": 880, "height": 238,
      "data": {"name": "d13c"},
      "resolve": {"axis": {"x": "independent"}},
      "layer": [
        {
          "mark": {"type": "line", "clip": true},
          "encoding": {
            "x": {"field": "age", "type": "quantitative", "scale": {"domain": [5000, 13000], "nice": false, "zero": false},
                  "axis": {"orient": "bottom", "values": [5000,6000,7000,8000,9000,10000,11000,12000,13000], "format": "d", "grid": true, "ticks": false, "labelPadding": 10, "title": null}},
            "y": {"field": "v", "type": "quantitative", "scale": {"domain": [-28, -18], "nice": false, "zero": false},
                  "axis": {"values": [-28,-27,-26,-25,-24,-23,-22,-21,-20,-19,-18], "tickCount": 11, "labelOverlap": false, "labelExpr": "replace(format(datum.value, '.1f'), '\u2212', '-')", "title": "δ¹³CTOC (‰ VPDB)", "titleFontSize": 29, "titleX": -46, "grid": false}},
            "stroke": {"field": "site", "type": "nominal", "scale": {"domain": ["Site 5", "Site 1", "Site 6"], "range": ["#000000", "#2e2e2e", "#8a8a8a"]}, "legend": null},
            "strokeWidth": {"field": "site", "type": "ordinal", "scale": {"domain": ["Site 5", "Site 1", "Site 6"], "range": [1.6, 1.1, 1.1]}, "legend": null}
          }
        },
        {
          "mark": {"type": "point", "strokeWidth": 1, "opacity": 1, "clip": true},
          "encoding": {
            "x": {"field": "age", "type": "quantitative",
                  "axis": {"orient": "top", "values": [5000,5100,5200,5300,5400,5500,5600,5700,5800,5900,6000,6100,6200,6300,6400,6500,6600,6700,6800,6900,7000,7100,7200,7300,7400,7500,7600,7700,7800,7900,8000,8100,8200,8300,8400,8500,8600,8700,8800,8900,9000,9100,9200,9300,9400,9500,9600,9700,9800,9900,10000,10100,10200,10300,10400,10500,10600,10700,10800,10900,11000,11100,11200,11300,11400,11500,11600,11700,11800,11900,12000,12100,12200,12300,12400,12500,12600,12700,12800,12900,13000], "labels": false, "domain": false, "grid": false, "tickSize": 3, "offset": -3, "title": null}},
            "y": {"field": "v", "type": "quantitative",
                  "axis": {"values": [-28,-27,-26,-25,-24,-23,-22,-21,-20,-19,-18], "tickCount": 11, "labelOverlap": false, "labelExpr": "replace(format(datum.value, '.1f'), '\u2212', '-')", "title": "δ¹³CTOC (‰ VPDB)", "titleFontSize": 29, "titleX": -46, "grid": false}},
            "stroke": {"field": "site", "type": "nominal", "legend": null},
            "shape": {"field": "site", "type": "nominal", "scale": {"domain": ["Site 5", "Site 1", "Site 6"], "range": ["square", "circle", "diamond"]}, "legend": null},
            "fill": {"field": "site", "type": "nominal", "scale": {"domain": ["Site 5", "Site 1", "Site 6"], "range": ["#ffffff", "#ffffff", "#8a8a8a"]}, "legend": null},
            "size": {"field": "site", "type": "ordinal", "scale": {"domain": ["Site 5", "Site 1", "Site 6"], "range": [26, 24, 12]}, "legend": null}
          }
        },
        {
          "mark": {"type": "text", "text": "B", "fontSize": 44, "fontWeight": "bold", "font": "Liberation Sans", "align": "center", "baseline": "alphabetic", "color": "#000"},
          "encoding": {"x": {"datum": 12475, "type": "quantitative", "axis": null},
                       "y": {"datum": -19.8, "type": "quantitative",
                             "axis": {"values": [-28,-27,-26,-25,-24,-23,-22,-21,-20,-19,-18], "tickCount": 11, "labelOverlap": false, "labelExpr": "replace(format(datum.value, '.1f'), '\u2212', '-')", "title": "δ¹³CTOC (‰ VPDB)", "titleFontSize": 29, "titleX": -46, "grid": false}}}
        }
      ]
    },
    {
      "width": 880, "height": 251,
      "data": {"name": "toc"},
      "layer": [
        {
          "mark": {"type": "line", "clip": true},
          "encoding": {
            "x": {"field": "age", "type": "quantitative", "scale": {"domain": [5000, 13000], "nice": false, "zero": false},
                  "axis": {"values": [5000,6000,7000,8000,9000,10000,11000,12000,13000], "format": "d", "grid": true, "tickSize": 4, "labelPadding": 5, "title": null}},
            "y": {"field": "v", "type": "quantitative", "scale": {"domain": [0, 3], "nice": false},
                  "axis": {"values": [0,0.5,1,1.5,2,2.5,3], "format": ".1f", "labelOverlap": false, "title": "TOC (wt. %)", "titleFontSize": 31, "titleX": -47, "grid": false}},
            "stroke": {"field": "site", "type": "nominal", "scale": {"domain": ["Site 5", "Site 1", "Site 6"], "range": ["#000000", "#2e2e2e", "#8a8a8a"]}, "legend": null},
            "strokeWidth": {"field": "site", "type": "ordinal", "scale": {"domain": ["Site 5", "Site 1", "Site 6"], "range": [1.6, 1.1, 1.1]}, "legend": null}
          }
        },
        {
          "mark": {"type": "point", "strokeWidth": 1, "opacity": 1, "clip": true},
          "encoding": {
            "x": {"field": "age", "type": "quantitative"},
            "y": {"field": "v", "type": "quantitative"},
            "stroke": {"field": "site", "type": "nominal", "legend": null},
            "shape": {"field": "site", "type": "nominal", "scale": {"domain": ["Site 5", "Site 1", "Site 6"], "range": ["square", "circle", "diamond"]}, "legend": null},
            "fill": {"field": "site", "type": "nominal", "scale": {"domain": ["Site 5", "Site 1", "Site 6"], "range": ["#ffffff", "#ffffff", "#8a8a8a"]}, "legend": null},
            "size": {"field": "site", "type": "ordinal", "scale": {"domain": ["Site 5", "Site 1", "Site 6"], "range": [26, 24, 12]}, "legend": null}
          }
        },
        {
          "mark": {"type": "text", "text": "C", "fontSize": 44, "fontWeight": "bold", "font": "Liberation Sans", "align": "center", "baseline": "alphabetic", "color": "#000"},
          "encoding": {"x": {"datum": 12475, "type": "quantitative"}, "y": {"datum": 2.49, "type": "quantitative"}}
        }
      ]
    },
    {
      "width": 880, "height": 131,
      "data": {"name": "c14"},
      "title": {"text": "Radiocarbon samples", "anchor": "start", "fontSize": 31, "font": "Liberation Sans", "fontWeight": "bold", "color": "#000", "offset": 7},
      "layer": [
        {
          "mark": {"type": "point", "filled": false, "strokeWidth": 1.4, "opacity": 1, "size": 81},
          "encoding": {
            "x": {"field": "age", "type": "quantitative", "scale": {"domain": [5000, 13000], "nice": false, "zero": false},
                  "axis": {"values": [5000,6000,7000,8000,9000,10000,11000,12000,13000], "format": "d", "grid": true, "tickSize": 4, "labelPadding": 6, "title": null}},
            "y": {"field": "site", "type": "nominal", "scale": {"type": "point", "domain": ["Site 5", "Site 1", "Site 6"], "padding": 1.05}, "axis": null},
            "shape": {"field": "site", "type": "nominal", "scale": {"domain": ["Site 1", "Site 5", "Site 6"], "range": ["circle", "square", "diamond"]},
                      "legend": {"title": null, "orient": "none", "legendX": 616, "legendY": 24, "direction": "horizontal", "padding": 9,
                                 "strokeColor": "#000", "fillColor": "#fff", "symbolSize": 40, "symbolStrokeWidth": 1.3, "labelFontSize": 12, "labelFontWeight": "bold",
                                 "labelColor": "#000", "columnPadding": 26, "labelOffset": 3}},
            "stroke": {"field": "site", "type": "nominal", "scale": {"domain": ["Site 1", "Site 5", "Site 6"], "range": ["#000000", "#000000", "#8a8a8a"]},
                       "legend": {"title": null, "orient": "none", "legendX": 616, "legendY": 24, "direction": "horizontal", "padding": 9,
                                 "strokeColor": "#000", "fillColor": "#fff", "symbolSize": 40, "symbolStrokeWidth": 1.3, "labelFontSize": 12, "labelFontWeight": "bold",
                                 "labelColor": "#000", "columnPadding": 26, "labelOffset": 3}}
          }
        },
        {
          "mark": {"type": "text", "text": "D", "fontSize": 44, "fontWeight": "bold", "font": "Liberation Sans", "align": "center", "baseline": "alphabetic", "color": "#000", "dy": 6},
          "encoding": {"x": {"datum": 12660, "type": "quantitative"}, "y": {"datum": "Site 5", "type": "nominal", "axis": null}}
        }
      ]
    }
  ],
  "config": {
    "font": "Liberation Sans",
    "view": {"stroke": "#333333", "strokeWidth": 1.6},
    "axis": {"labelFont": "Liberation Sans", "labelFontSize": 10.5, "labelFontWeight": "bold", "labelColor": "#111", "tickColor": "#222", "domainColor": "#333", "domainWidth": 1.6, "labelOverlap": false,
             "titleFont": "Liberation Sans", "titleFontWeight": "bold", "titleColor": "#000", "gridColor": "#000", "gridDash": [2, 2], "gridWidth": 1.2, "gridOpacity": 1, "tickSize": 4},
    "legend": {"labelFont": "Liberation Sans"}
  }
}
